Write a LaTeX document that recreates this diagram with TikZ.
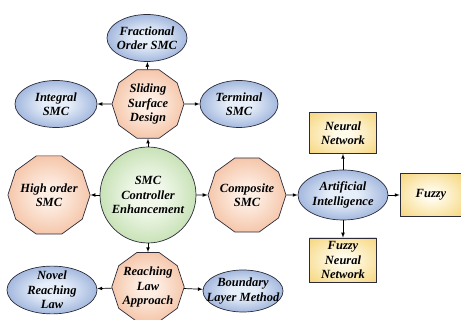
\documentclass[tikz,border=0pt]{standalone}
\usepackage{fontspec}
\setmainfont{Liberation Serif}
\usetikzlibrary{shapes.geometric,arrows}

% Colors
\definecolor{blueedge}{HTML}{4F74BC}
\definecolor{bluecore}{HTML}{E6EEF9}
\definecolor{peachedge}{HTML}{F0AD85}
\definecolor{peachcore}{HTML}{FDEEE4}
\definecolor{greenedge}{HTML}{A5CF8A}
\definecolor{greencore}{HTML}{F1F8EB}
\definecolor{yellowedge}{HTML}{F4CB5C}
\definecolor{yellowcore}{HTML}{FFFBEA}
\definecolor{rim}{HTML}{2B2B3A}

\pgfdeclareradialshading{blueglow}{\pgfpoint{0bp}{0bp}}{color(0bp)=(bluecore); color(8bp)=(bluecore); color(47bp)=(blueedge); color(50bp)=(blueedge)}
\pgfdeclareradialshading{peachglow}{\pgfpoint{0bp}{0bp}}{color(0bp)=(peachcore); color(6bp)=(peachcore); color(38bp)=(peachedge); color(50bp)=(peachedge)}
\pgfdeclareradialshading{greenglow}{\pgfpoint{0bp}{0bp}}{color(0bp)=(greencore); color(8bp)=(greencore); color(40bp)=(greenedge); color(50bp)=(greenedge)}
\pgfdeclareradialshading{yellowglow}{\pgfpoint{0bp}{0bp}}{color(0bp)=(yellowcore); color(6bp)=(yellowcore); color(44bp)=(yellowedge); color(50bp)=(yellowedge)}

\begin{document}
\begin{tikzpicture}[x=1pt,y=-1pt,line width=0.7pt]
  % Styles
  \tikzstyle{box}=[draw=rim,align=center,font=\fontsize{12.5}{14.5}\selectfont\bfseries\itshape]
  \tikzstyle{oval}=[box,ellipse,shading=blueglow,inner xsep=-8pt,inner ysep=-2pt]
  \tikzstyle{deca}=[box,regular polygon,regular polygon sides=10,shading=peachglow,inner sep=-1pt]
  \tikzstyle{hub}=[box,circle,shading=greenglow,inner sep=0pt,minimum size=96pt]
  \tikzstyle{card}=[box,rectangle,shading=yellowglow,inner sep=0pt]
  \tikzstyle{vector}=[-latex,black]

  \useasboundingbox (0,0) rectangle (461,320);

  % The graphic
  \node[hub] (ce) at (148,195) {SMC\\Controller\\Enhancement};

  \node[deca,minimum size=72pt] (ssd) at (148,104) {Sliding\\Surface\\Design};
  \node[deca,minimum size=78pt] (hos) at (49,195) {High order\\SMC};
  \node[deca,minimum size=78pt] (csm) at (247,195) {Composite\\SMC};
  \node[deca,minimum size=70pt] (rla) at (148,287) {Reaching\\Law\\Approach};

  \node[oval,minimum width=80pt,minimum height=47pt] (fos) at (147,38) {Fractional\\Order SMC};
  \node[oval,minimum width=82pt,minimum height=47pt] (ism) at (56,104) {Integral\\SMC};
  \node[oval,minimum width=78pt,minimum height=47pt] (tsm) at (239,104) {Terminal\\SMC};
  \node[oval,minimum width=90pt,minimum height=45pt] (nrl) at (52,290) {Novel\\Reaching\\Law};
  \node[oval,minimum width=80pt,minimum height=42pt,inner xsep=-12pt] (blm) at (243,291) {Boundary\\Layer Method};
  \node[oval,minimum width=90pt,minimum height=50pt] (ai) at (343,195) {Artificial\\Intelligence};

  \node[card,minimum width=67pt,minimum height=41pt] (nn) at (343,133) {Neural\\Network};
  \node[card,minimum width=62pt,minimum height=43pt] (fz) at (431,195) {Fuzzy};
  \node[card,minimum width=67pt,minimum height=44pt] (fnn) at (343,260) {Fuzzy\\Neural\\Network};

  \draw[vector] (ce) -- (ssd);
  \draw[vector] (ce) -- (hos);
  \draw[vector] (ce) -- (csm);
  \draw[vector] (ce) -- (rla);

  \draw[vector] (ssd) -- (fos);
  \draw[vector] (ssd) -- (ism);
  \draw[vector] (ssd) -- (tsm);

  \draw[vector] (rla) -- (nrl);
  \draw[vector] (rla) -- (blm);

  \draw[vector] (csm) -- (ai);
  \draw[vector] (ai) -- (nn);
  \draw[vector] (ai) -- (fz);
  \draw[vector] (ai) -- (fnn);
\end{tikzpicture}
\end{document}
